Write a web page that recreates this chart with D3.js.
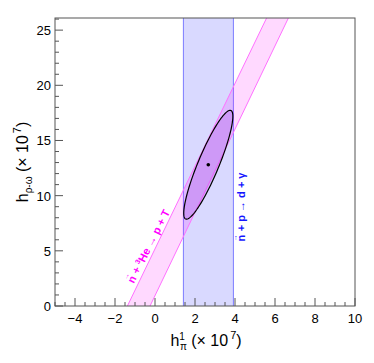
<!DOCTYPE html>
<html><head><meta charset="utf-8">
<script src="https://cdn.jsdelivr.net/npm/d3@7"></script>
<style>body{margin:0;background:#fff}svg{display:block;font-family:"Liberation Sans",Arial,sans-serif}</style>
</head><body><div id="chart"></div>
<script>
// ---- data ----
const xDomain = [-5, 10];
const yDomain = [0, 26.1];
const xMajorTicks = [-4, -2, 0, 2, 4, 6, 8, 10];
const yMajorTicks = [0, 5, 10, 15, 20, 25];
const npBand = [1.42, 3.92];                       // n + p -> d + gamma (x range)
const heBandLeft = [[-1.38, 0], [5.58, 26.1]];     // n + 3He -> p + T band edges
const heBandRight = [[-0.25, 0], [6.67, 26.1]];
const fitCenter = [2.665, 12.8];
const ellipseU = [1.13, 4.92];                     // semi-diameter vectors (data units)
const ellipseV = [0.48, -0.37];

const W = 374, H = 363;
const m = {l: 55, r: 355, t: 18, b: 306};
const x = d3.scaleLinear().domain(xDomain).range([m.l, m.r]);
const y = d3.scaleLinear().domain(yDomain).range([m.b, m.t]);

const svg = d3.select("#chart").append("svg").attr("width", W).attr("height", H);
svg.append("defs").append("clipPath").attr("id", "clip")
  .append("rect").attr("x", m.l).attr("y", m.t).attr("width", m.r - m.l).attr("height", m.b - m.t);
const g = svg.append("g").attr("clip-path", "url(#clip)");

// blue band
g.append("rect").attr("x", x(npBand[0])).attr("y", m.t)
  .attr("width", x(npBand[1]) - x(npBand[0])).attr("height", m.b - m.t)
  .attr("fill", "rgb(0,0,255)").attr("fill-opacity", 0.15);
npBand.forEach(v => g.append("line").attr("x1", x(v)).attr("x2", x(v)).attr("y1", m.t).attr("y2", m.b)
  .attr("stroke", "#7b7bff").attr("stroke-width", 1));

// magenta band
const hePoly = [...heBandLeft, ...heBandRight.slice().reverse()];
g.append("path").attr("d", d3.line().x(d => x(d[0])).y(d => y(d[1]))(hePoly) + "Z")
  .attr("fill", "rgb(255,0,255)").attr("fill-opacity", 0.15);
[heBandLeft, heBandRight].forEach(l => g.append("path")
  .attr("d", d3.line().x(d => x(d[0])).y(d => y(d[1]))(l))
  .attr("stroke", "#ff70ff").attr("stroke-width", 1).attr("fill", "none"));

// ellipse
const ell = d3.range(0, 361, 3).map(a => {
  const t = a * Math.PI / 180;
  return [fitCenter[0] + Math.cos(t) * ellipseU[0] + Math.sin(t) * ellipseV[0],
          fitCenter[1] + Math.cos(t) * ellipseU[1] + Math.sin(t) * ellipseV[1]];
});
g.append("path").attr("d", d3.line().x(d => x(d[0])).y(d => y(d[1])).curve(d3.curveLinearClosed)(ell))
  .attr("fill", "rgb(128,0,210)").attr("fill-opacity", 0.17)
  .attr("stroke", "#000").attr("stroke-width", 1.2);
g.append("circle").attr("cx", x(fitCenter[0])).attr("cy", y(fitCenter[1])).attr("r", 1.8).attr("fill", "#000");

// frame
svg.append("rect").attr("x", m.l).attr("y", m.t).attr("width", m.r - m.l).attr("height", m.b - m.t)
  .attr("fill", "none").attr("stroke", "#555").attr("stroke-width", 1);

// ticks
const xMinor = d3.range(xDomain[0], xDomain[1] + 0.001, 0.5).filter(v => !xMajorTicks.includes(v));
const yMinor = d3.range(0, 26.01, 1).filter(v => !yMajorTicks.includes(v));
const tk = svg.append("g").attr("stroke", "#555").attr("stroke-width", 1);
xMajorTicks.forEach(v => tk.append("line").attr("x1", x(v)).attr("x2", x(v)).attr("y1", m.b).attr("y2", m.b - 8));
xMinor.forEach(v => tk.append("line").attr("x1", x(v)).attr("x2", x(v)).attr("y1", m.b).attr("y2", m.b - 4));
yMajorTicks.forEach(v => tk.append("line").attr("y1", y(v)).attr("y2", y(v)).attr("x1", m.l).attr("x2", m.l + 8));
yMinor.forEach(v => tk.append("line").attr("y1", y(v)).attr("y2", y(v)).attr("x1", m.l).attr("x2", m.l + 4));

// tick labels
svg.append("g").selectAll("text").data(xMajorTicks).join("text")
  .attr("x", d => x(d)).attr("y", 323).attr("text-anchor", "middle")
  .attr("font-size", 13).text(d => d < 0 ? "\u2212" + Math.abs(d) : d);
svg.append("g").selectAll("text").data(yMajorTicks).join("text")
  .attr("x", 51).attr("y", d => y(d) + 5).attr("text-anchor", "end")
  .attr("font-size", 13).text(d => d);

// axis titles
const xt = svg.append("text").attr("x", 206).attr("y", 346).attr("text-anchor", "middle").attr("font-size", 16);
xt.append("tspan").text("h");
xt.append("tspan").attr("font-size", 10).attr("dy", -6).text("1");
xt.append("tspan").attr("font-size", 10).attr("dx", -5).attr("dy", 10).text("\u03c0");
xt.append("tspan").attr("dy", -4).text(" (\u00d7 10");
xt.append("tspan").attr("font-size", 11).attr("dy", -7).attr("dx", 2).text("7");
xt.append("tspan").attr("dy", 7).text(")");

const yt = svg.append("text").attr("transform", `translate(28,${(m.t + m.b) / 2}) rotate(-90)`)
  .attr("text-anchor", "middle").attr("font-size", 16);
yt.append("tspan").text("h");
yt.append("tspan").attr("font-size", 10).attr("dy", 4).text("\u03c1-\u03c9");
yt.append("tspan").attr("dy", -4).text(" (\u00d7 10");
yt.append("tspan").attr("font-size", 11).attr("dy", -7).attr("dx", 2).text("7");
yt.append("tspan").attr("dy", 7).text(")");

// reaction labels (vector arrow drawn as a small raised arrow over the n)
svg.append("text").attr("transform", "translate(152,248) rotate(-63)")
  .attr("text-anchor", "middle").attr("font-size", 11).attr("font-weight", "bold")
  .attr("fill", "#ff00ff")
  .html('n<tspan font-size="7" font-weight="normal" dx="-6.5" dy="-8">\u2192</tspan><tspan dy="8"> + </tspan><tspan font-size="7" dy="-4">3</tspan><tspan dy="4">He \u2192 p + T</tspan>');
svg.append("text").attr("transform", "translate(245,207) rotate(-90)")
  .attr("text-anchor", "middle").attr("font-size", 11).attr("font-weight", "bold")
  .attr("fill", "#1515ff")
  .html('n<tspan font-size="7" font-weight="normal" dx="-6.5" dy="-8">\u2192</tspan><tspan dy="8"> + p \u2192 d + \u03b3</tspan>');
</script></body></html>
